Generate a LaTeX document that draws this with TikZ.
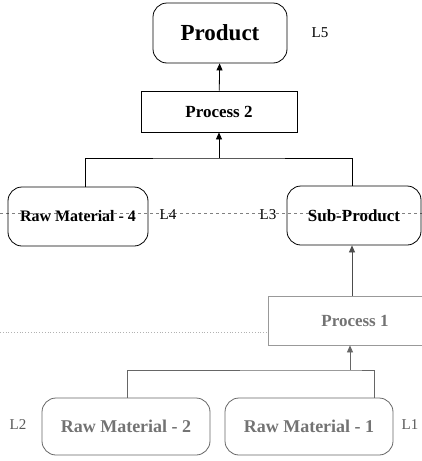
\documentclass[tikz,border=0pt]{standalone}
\usepackage{fontspec}
\setmainfont{Liberation Serif}
\usetikzlibrary{arrows.meta}
\tikzset{
  caja/.style={draw, thick, rounded corners=14pt, align=center},
  proceso/.style={draw, thick, align=center},
  flecha/.style={thick, -{Triangle[length=7pt,width=6pt]}},
  nivel/.style={font=\fontsize{15}{17}\selectfont}
}
\begin{document}
\begin{tikzpicture}[x=1pt, y=-1pt]
          \useasboundingbox (0,0) rectangle (422,461);
          % Producto y proceso 2
          \node[caja, minimum width=134pt, minimum height=60pt, font=\bfseries\fontsize{23}{26}\selectfont] (prod) at (220,33) {Product};
          \node[nivel] (l5) at (320,33) {L5};
          \node[proceso, minimum width=156pt, minimum height=41pt, font=\bfseries\fontsize{17}{20}\selectfont] (proc2) at (219,111.5) {Process 2};
          \draw[flecha] (proc2) -- (prod);
          % Nivel intermedio
          \coordinate (dizq) at (0,213);
          \coordinate (dder) at (422,213);
          \draw[gray, dashed, thin] (dizq) -- (dder);
          \node[caja, minimum width=140pt, minimum height=59pt, font=\bfseries\fontsize{16}{19}\selectfont] (mp4) at (78,216.5) {Raw Material - 4};
          \node[caja, minimum width=134pt, minimum height=59pt, font=\bfseries\fontsize{17}{20}\selectfont] (sub) at (354,215.5) {Sub-Product};
          \node[nivel] (l4) at (168,215) {L4};
          \node[nivel] (l3) at (268,215) {L3};
          \coordinate (u2) at (219,158);
          \draw[thick] ([xshift=7pt]mp4.north) |- (u2) -| ([xshift=-2pt]sub.north);
          \draw[flecha] (u2) -- (proc2);
          % Proceso 1 y materias primas
          \node[proceso, draw=gray!80, text=gray!90!black, minimum width=174pt, minimum height=49pt, font=\bfseries\fontsize{17}{20}\selectfont] (proc1) at (355,320.5) {Process 1};
          \coordinate (pizq) at (0,332);
          \draw[gray!60, dotted, thick] (pizq) -- (pizq -| proc1.west);
          \draw[flecha, black!70] ([xshift=-2pt]sub.south |- proc1.north) -- ([xshift=-2pt]sub.south);
          \node[caja, draw=black!60, text=black!55, minimum width=168pt, minimum height=57pt, font=\bfseries\fontsize{18}{21}\selectfont] (mp2) at (126,426.5) {Raw Material - 2};
          \node[caja, draw=black!60, text=black!55, minimum width=168pt, minimum height=57pt, font=\bfseries\fontsize{18}{21}\selectfont] (mp1) at (309,426.5) {Raw Material - 1};
          \node[nivel, text=black!65] (l2) at (18,425) {L2};
          \node[nivel, text=black!65] (l1) at (410,425) {L1};
          \coordinate (u1) at (350,370);
          \draw[black!60, thick] ([xshift=1pt]mp2.north) |- (u1) -| ([xshift=65pt]mp1.north);
          \draw[flecha, black!60] (u1) -- (proc1.south -| u1);
        \end{tikzpicture}
\end{document}
